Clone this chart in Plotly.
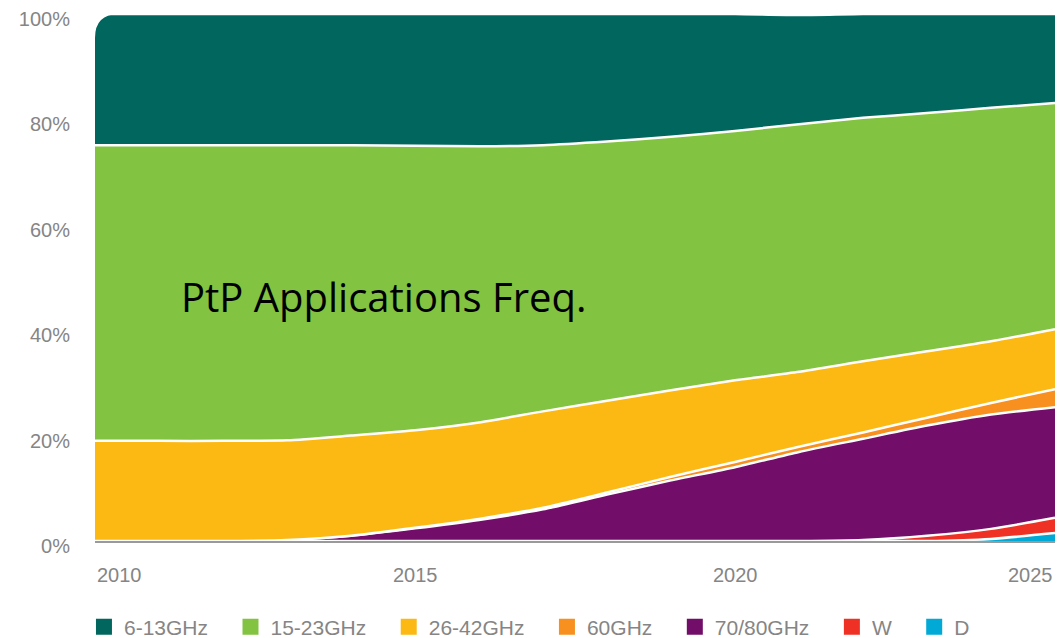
import plotly.graph_objects as go

years = list(range(2010, 2026))

# shares in percent (each year sums to ~100)
ghz_6_13 = [24.9, 24.9, 24.9, 24.9, 24.9, 25.0, 25.1, 24.9, 24.2, 23.3, 22.2, 20.7, 19.7, 18.8, 17.8, 16.9]
ghz_15_23 = [56.1, 56.1, 56.1, 56.0, 55.1, 54.0, 52.4, 50.5, 49.2, 48.1, 47.3, 47.0, 46.2, 45.2, 44.3, 42.9]
ghz_26_42 = [19.0, 19.0, 19.0, 18.9, 19.0, 18.5, 18.3, 18.3, 17.4, 16.4, 15.5, 14.2, 13.5, 12.6, 11.7, 11.4]
ghz_60 = [0, 0, 0, 0, 0, 0.1, 0.2, 0.3, 0.4, 0.7, 1.0, 1.0, 1.2, 1.5, 2.2, 3.4]
ghz_70_80 = [0, 0, 0, 0.2, 1.0, 2.4, 4.0, 6.0, 8.8, 11.5, 14.0, 16.9, 19.2, 20.9, 21.7, 21.0]
band_w = [0, 0, 0, 0, 0, 0, 0, 0, 0, 0, 0, 0, 0.2, 1.0, 1.9, 2.9]
band_d = [0, 0, 0, 0, 0, 0, 0, 0, 0, 0, 0, 0, 0, 0, 0.4, 1.5]

x_ticks = [2010, 2015, 2020, 2025]
y_ticks = [0, 20, 40, 60, 80, 100]

# bottom of the stack first
series = [
    ("D", band_d, "#00A9D6"),
    ("W", band_w, "#EE3124"),
    ("70/80GHz", ghz_70_80, "#720E69"),
    ("60GHz", ghz_60, "#F7901E"),
    ("26-42GHz", ghz_26_42, "#FDB913"),
    ("15-23GHz", ghz_15_23, "#82C341"),
    ("6-13GHz", ghz_6_13, "#00665E"),
]

grey = "#858585"
pad = "\u00a0\u00a0\u00a0"

fig = go.Figure()

for name, vals, color in series:
    fig.add_trace(
        go.Scatter(
            x=years,
            y=vals,
            name=name,
            stackgroup="all",
            mode="lines",
            line=dict(color="white", width=2.5, shape="spline", smoothing=0.6),
            fillcolor=color,
            showlegend=False,
            hoverinfo="skip",
        )
    )

# legend entries drawn as squares
for name, vals, color in series:
    fig.add_trace(
        go.Scatter(
            x=[None],
            y=[None],
            name=name + pad,
            mode="markers",
            marker=dict(symbol="square", size=16, color=color),
            showlegend=True,
        )
    )

# x tick labels, first and last pulled inside the plot edge
for i, yr in enumerate(x_ticks):
    anchor = "left" if i == 0 else ("right" if i == len(x_ticks) - 1 else "center")
    fig.add_annotation(
        x=yr,
        y=0,
        xref="x",
        yref="y",
        yshift=-34,
        text=str(yr),
        showarrow=False,
        xanchor=anchor,
        yanchor="middle",
        font=dict(size=20, color=grey),
    )

fig.add_annotation(
    x=0.088,
    y=0.463,
    xref="paper",
    yref="paper",
    text="PtP Applications Freq.",
    showarrow=False,
    xanchor="left",
    yanchor="middle",
    font=dict(family="Open Sans, Noto Sans, sans-serif", size=40, color="black"),
)

# rounded top-left corner of the area
fig.add_shape(
    type="path",
    xref="x",
    yref="y",
    xsizemode="pixel",
    ysizemode="pixel",
    xanchor=2010,
    yanchor=100,
    path="M-2,2 L24,2 L24,0 Q0,0 0,-24 L-2,-24 Z",
    fillcolor="white",
    line=dict(width=0),
    layer="above",
)

# the page body adds an 8px margin, so the figure is made smaller to fit
fig.update_layout(
    width=1055,
    height=630,
    margin=dict(l=87, r=8, t=6, b=97),
    paper_bgcolor="white",
    plot_bgcolor="white",
    font=dict(family="Liberation Sans, Arial, sans-serif", color=grey),
    xaxis=dict(
        range=[2010, 2025],
        showgrid=False,
        zeroline=False,
        showticklabels=False,
        showline=True,
        linecolor="#9a9a9a",
        linewidth=2,
        automargin=False,
    ),
    yaxis=dict(
        range=[0, 100],
        tickvals=y_ticks,
        ticktext=[f"{v}%" for v in y_ticks],
        showgrid=False,
        zeroline=False,
        ticks="",
        ticklabelstandoff=24,
        ticklabelshift=5,
        ticklabeloverflow="allow",
        tickfont=dict(size=20, color=grey),
        automargin=False,
    ),
    legend=dict(
        orientation="h",
        xref="container",
        yref="container",
        x=0.072,
        y=0.0175,
        xanchor="left",
        yanchor="middle",
        traceorder="reversed",
        font=dict(size=21, color=grey),
        itemsizing="trace",
    ),
)

fig.write_html("out.html")
